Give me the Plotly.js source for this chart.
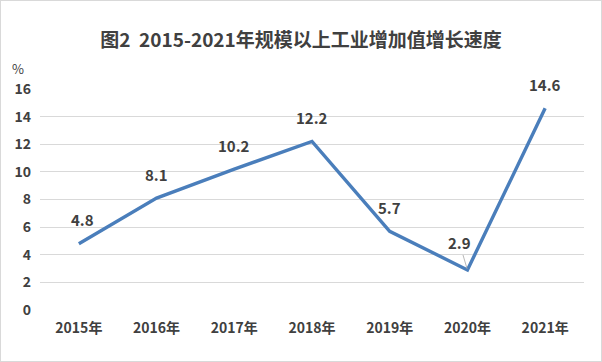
<!DOCTYPE html>
<html><head><meta charset="utf-8">
<script src="https://cdn.plot.ly/plotly-3.0.1.min.js"></script>
<style>
body{margin:0;padding:0;background:#fff;}
#chart{width:600px;height:360px;border:1px solid #d9d9d9;}
</style>
</head><body>
<div id="chart"></div>
<script>
const years = ["2015年","2016年","2017年","2018年","2019年","2020年","2021年"];
const growth = [4.8, 8.1, 10.2, 12.2, 5.7, 2.9, 14.6];
const labelText = ["4.8","8.1","10.2","12.2","5.7","2.9","14.6"];
const yTicks = [0,2,4,6,8,10,12,14,16];

const FONT = '"Noto Sans CJK SC", "Liberation Sans", sans-serif';
const TXT = '#404040';

const annotations = years.map((yr, i) => {
  if (i === 5) {
    return {x: i, y: growth[i], xref:'x', yref:'y', text: '<b>'+labelText[i]+'</b>',
      showarrow: true, arrowhead: 0, arrowwidth: 0.8, arrowcolor: '#a6a6a6',
      ax: -8, ay: -27, standoff: 1, font:{family:FONT,size:15,color:TXT}};
  }
  return {x: i, y: growth[i], xref:'x', yref:'y', text: '<b>'+labelText[i]+'</b>',
    showarrow:false, yshift: 24, xshift: i===0 ? 4 : 0, font:{family:FONT,size:15,color:TXT}};
});
annotations.push({xref:'paper', yref:'paper', x:-0.04, y:1.095, xanchor:'center', yanchor:'middle',
  text:'%', showarrow:false, font:{family:FONT,size:13,color:TXT}});

const data = [{
  x: years.map((_, i) => i),
  y: growth,
  type:'scatter', mode:'lines',
  line:{color:'#4a7ebb', width:3.4},
  hoverinfo:'skip'
}];

const layout = {
  width:600, height:360,
  margin:{l:39, r:17, t:88, b:51},
  paper_bgcolor:'#fff', plot_bgcolor:'#fff',
  showlegend:false,
  title:{text:'<b>图2  2015-2021年规模以上工业增加值增长速度</b>', x:0.5, xanchor:'center', y:0.89, yanchor:'middle',
    font:{family:FONT, size:19, color:TXT}},
  xaxis:{range:[-0.5,6.5], tickmode:'array', tickvals:years.map((_, i)=>i),
    ticktext:years.map(t=>'<b>'+t+'</b>'),
    showgrid:false, zeroline:false, showline:false, ticks:'',
    ticklabelstandoff:8,
    tickfont:{family:FONT,size:14,color:TXT}, fixedrange:true},
  yaxis:{range:[0,16], tickmode:'array', tickvals:yTicks, ticktext:yTicks.map(v=>'<b>'+v+'</b>'),
    showgrid:true, gridcolor:'#d9d9d9', gridwidth:1, zeroline:false, showline:false, ticks:'',
    ticklabelstandoff:8,
    tickfont:{family:FONT,size:14,color:TXT}, fixedrange:true},
  annotations: annotations
};

Plotly.newPlot('chart', data, layout, {staticPlot:true, displayModeBar:false});
</script>
</body></html>
